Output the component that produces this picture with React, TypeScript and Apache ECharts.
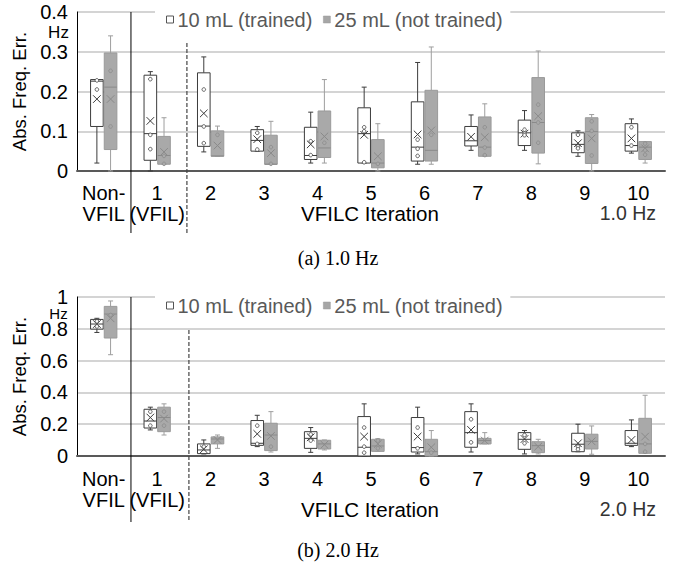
import React, { useEffect, useRef } from "react";
import * as echarts from "echarts";

// ---------- data ----------
const categories = ["Non-\nVFIL", "1\n(VFIL)", "2", "3", "4", "5", "6", "7", "8", "9", "10"];
const seriesNames = ["10 mL (trained)", "25 mL (not trained)"];

// [min, q1, median, q3, max]
const box10_1Hz = [
  [0.02, 0.112, 0.226, 0.23, 0.23],
  [0.0, 0.027, 0.094, 0.241, 0.25],
  [0.048, 0.062, 0.113, 0.247, 0.287],
  [0.05, 0.05, 0.077, 0.104, 0.112],
  [0.02, 0.029, 0.039, 0.11, 0.148],
  [0.02, 0.02, 0.094, 0.159, 0.211],
  [0.017, 0.025, 0.06, 0.174, 0.273],
  [0.052, 0.063, 0.076, 0.112, 0.141],
  [0.052, 0.064, 0.096, 0.128, 0.152],
  [0.037, 0.046, 0.067, 0.096, 0.101],
  [0.045, 0.05, 0.064, 0.119, 0.131],
];
const mean10_1Hz = [0.181, 0.126, 0.145, 0.08, 0.067, 0.091, 0.092, 0.086, 0.094, 0.07, 0.082];
const pts10_1Hz = [
  [0.228, 0.205], [0.231, 0.091, 0.055], [0.205, 0.112, 0.07], [0.096, 0.054], [0.075, 0.04],
  [0.11, 0.1, 0.022], [0.079, 0.056, 0.038], [], [0.104, 0.094, 0.09], [0.091, 0.062, 0.057], [0.11, 0.064],
];

const box25_1Hz = [
  [0.0, 0.054, 0.211, 0.297, 0.34],
  [0.017, 0.017, 0.039, 0.087, 0.134],
  [0.037, 0.037, 0.038, 0.101, 0.113],
  [0.017, 0.017, 0.017, 0.09, 0.125],
  [0.02, 0.034, 0.058, 0.151, 0.23],
  [0.0, 0.008, 0.02, 0.079, 0.119],
  [0.017, 0.025, 0.052, 0.203, 0.312],
  [0.037, 0.037, 0.06, 0.136, 0.169],
  [0.018, 0.045, 0.122, 0.235, 0.302],
  [0.0, 0.019, 0.099, 0.134, 0.142],
  [0.02, 0.029, 0.06, 0.074, 0.074],
];
const mean25_1Hz = [0.181, 0.048, 0.064, 0.045, 0.087, 0.037, 0.102, 0.085, 0.138, 0.082, 0.057];
const pts25_1Hz = [
  [0.252, 0.112], [0.038, 0.018], [0.091], [0.06, 0.018], [0.071], [0.018], [0.091],
  [0.11, 0.059, 0.04], [0.167, 0.122, 0.071], [0.125, 0.101, 0.039], [0.069, 0.052, 0.041],
];

const box10_2Hz = [
  [0.777, 0.798, 0.83, 0.859, 0.866],
  [0.164, 0.176, 0.22, 0.294, 0.307],
  [0.013, 0.015, 0.038, 0.076, 0.101],
  [0.059, 0.067, 0.08, 0.223, 0.256],
  [0.023, 0.048, 0.111, 0.153, 0.179],
  [0.0, 0.0, 0.055, 0.248, 0.328],
  [0.013, 0.025, 0.053, 0.242, 0.307],
  [0.025, 0.055, 0.147, 0.279, 0.328],
  [0.013, 0.042, 0.105, 0.147, 0.16],
  [0.027, 0.027, 0.074, 0.143, 0.2],
  [0.059, 0.067, 0.08, 0.16, 0.227],
];
const mean10_2Hz = [0.83, 0.242, 0.042, 0.139, 0.118, 0.122, 0.122, 0.164, 0.107, 0.08, 0.101];
const pts10_2Hz = [
  [0.847, 0.815], [0.279, 0.191], [0.059], [0.191, 0.076], [0.136, 0.097], [0.179, 0.059, 0.021],
  [0.179, 0.048], [0.231, 0.086], [0.132, 0.08], [0.059, 0.042], [],
];

const box25_2Hz = [
  [0.637, 0.742, 0.893, 0.941, 0.975],
  [0.132, 0.153, 0.242, 0.307, 0.328],
  [0.048, 0.076, 0.107, 0.12, 0.132],
  [0.025, 0.034, 0.132, 0.206, 0.279],
  [0.038, 0.044, 0.076, 0.099, 0.101],
  [0.029, 0.029, 0.063, 0.105, 0.109],
  [0.0, 0.0, 0.027, 0.105, 0.16],
  [0.076, 0.076, 0.097, 0.111, 0.147],
  [0.013, 0.021, 0.065, 0.09, 0.105],
  [0.011, 0.044, 0.092, 0.137, 0.189],
  [0.017, 0.017, 0.076, 0.237, 0.382],
];
const mean25_2Hz = [0.866, 0.235, 0.101, 0.126, 0.071, 0.076, 0.055, 0.097, 0.059, 0.092, 0.122];
const pts25_2Hz = [
  [0.887], [0.279, 0.191], [], [0.059], [], [0.097, 0.048], [0.021], [], [], [], [0.076, 0.027],
];

// ---------- styles ----------
const SANS = "'Liberation Sans', Arial, Helvetica, sans-serif";
const SERIF = "'Liberation Serif', 'Times New Roman', serif";

const whiteStyle = { fill: "#ffffff", stroke: "#3c3c3c", whisker: "#3c3c3c", inner: "#3c3c3c", dotFill: "#ffffff" };
const greyStyle = { fill: "#a9a9a9", stroke: "#9a9a9a", whisker: "#9e9e9e", inner: "#8a8a8a", dotFill: "#a9a9a9" };

function makeRender(side: number, pts: number[][], st: any) {
  return (params: any, api: any) => {
    const i = api.value(0);
    const mn = api.value(1), q1 = api.value(2), md = api.value(3), q3 = api.value(4), mx = api.value(5), mean = api.value(6);
    const band = api.size([1, 0])[0];
    const cx = api.coord([i, 0])[0] + side * band * 0.128;
    const hw = band * 0.118;
    const Y = (v: number) => api.coord([i, v])[1];
    const cap = 2.5;
    const ls = { stroke: st.whisker, lineWidth: 1 };
    const children: any[] = [
      { type: "line", shape: { x1: cx, y1: Y(mx), x2: cx, y2: Y(q3) }, style: ls },
      { type: "line", shape: { x1: cx - cap, y1: Y(mx), x2: cx + cap, y2: Y(mx) }, style: ls },
      { type: "line", shape: { x1: cx, y1: Y(q1), x2: cx, y2: Y(mn) }, style: ls },
      { type: "line", shape: { x1: cx - cap, y1: Y(mn), x2: cx + cap, y2: Y(mn) }, style: ls },
      {
        type: "rect",
        shape: { x: cx - hw, y: Y(q3), width: 2 * hw, height: Math.max(Y(q1) - Y(q3), 0.5) },
        style: { fill: st.fill, stroke: st.stroke, lineWidth: 1 },
      },
      { type: "line", shape: { x1: cx - hw, y1: Y(md), x2: cx + hw, y2: Y(md) }, style: { stroke: st.inner, lineWidth: 1 } },
    ];
    const m = Y(mean);
    const xs = 3.8;
    children.push(
      { type: "line", shape: { x1: cx - xs, y1: m - xs, x2: cx + xs, y2: m + xs }, style: { stroke: st.inner, lineWidth: 1 } },
      { type: "line", shape: { x1: cx - xs, y1: m + xs, x2: cx + xs, y2: m - xs }, style: { stroke: st.inner, lineWidth: 1 } }
    );
    (pts[params.dataIndex] || []).forEach((v) => {
      children.push({ type: "circle", shape: { cx, cy: Y(v), r: 1.8 }, style: { fill: st.dotFill, stroke: st.inner, lineWidth: 0.8 } });
    });
    return { type: "group", children };
  };
}

function buildData(box: number[][], mean: number[]) {
  return categories.map((_, i) => [i, ...box[i], mean[i]]);
}

const GRID_LEFT = 77;
const GRID_W = 588;
const GRID_H = 159;
const TOPS = [12, 297];

export default function App() {
  const ref = useRef<HTMLDivElement>(null);
  useEffect(() => {
    document.body.style.margin = "0";
    const chart = echarts.init(ref.current!, undefined, { renderer: "svg" });

    const mkX = (gi: number) => ({
      type: "category",
      gridIndex: gi,
      data: categories,
      boundaryGap: true,
      axisLine: { show: true, lineStyle: { color: "#595959", width: 2 } },
      axisTick: { show: false },
      splitLine: { show: false },
      axisLabel: { color: "#000", fontSize: 20, lineHeight: 21, margin: gi ? 12 : 11, fontFamily: SANS, interval: 0 },
    });
    const mkY = (gi: number, max: number, interval: number) => ({
      type: "value",
      gridIndex: gi,
      min: 0,
      max,
      interval,
      name: "Abs. Freq. Err.",
      nameLocation: "middle",
      nameGap: 44,
      nameTextStyle: { color: "#000", fontSize: 18.5, fontFamily: SANS },
      axisLine: { show: true, lineStyle: { color: "#000", width: 1 } },
      axisTick: { show: false },
      splitLine: { show: true, lineStyle: { color: "#c6c6c6", width: 1.5 } },
      axisLabel: { color: "#000", fontSize: 20, lineHeight: 16, margin: 9, fontFamily: SANS },
    });

    const series: any[] = [];
    const sets = [
      [box10_1Hz, mean10_1Hz, pts10_1Hz, box25_1Hz, mean25_1Hz, pts25_1Hz],
      [box10_2Hz, mean10_2Hz, pts10_2Hz, box25_2Hz, mean25_2Hz, pts25_2Hz],
    ] as any[];
    sets.forEach((s: any, gi: number) => {
      series.push({
        type: "custom",
        name: seriesNames[0],
        xAxisIndex: gi,
        yAxisIndex: gi,
        data: buildData(s[0], s[1]),
        encode: { x: 0, y: [1, 2, 3, 4, 5] },
        renderItem: makeRender(-1, s[2], whiteStyle),
        itemStyle: { color: "#fff", borderColor: "#555" },
        z: 3,
      });
      series.push({
        type: "custom",
        name: seriesNames[1],
        xAxisIndex: gi,
        yAxisIndex: gi,
        data: buildData(s[3], s[4]),
        encode: { x: 0, y: [1, 2, 3, 4, 5] },
        renderItem: makeRender(1, s[5], greyStyle),
        itemStyle: { color: "#a6a6a6" },
        z: 3,
      });
    });

    const mkLegend = (top: number) => ({
      left: 155,
      top,
      orient: "horizontal",
      backgroundColor: "#ffffff",
      padding: [2, 7, 2, 11],
      itemWidth: 7,
      itemHeight: 7,
      itemGap: 10,
      selectedMode: false,
      textStyle: { color: "#595959", fontSize: 20, fontFamily: SANS, lineHeight: 20, padding: [0, 0, 0, -1] },
      data: [
        { name: seriesNames[0], icon: "rect", itemStyle: { color: "#ffffff", borderColor: "#555555", borderWidth: 1 } },
        { name: seriesNames[1], icon: "rect", itemStyle: { color: "#a6a6a6", borderColor: "#999999", borderWidth: 0.5 } },
      ],
      z: 5,
    });

    const graphic: any[] = [];
    const labelsHz = ["1.0 Hz", "2.0 Hz"];
    const captions = ["(a) 1.0 Hz", "(b) 2.0 Hz"];
    const catW = GRID_W / categories.length;
    TOPS.forEach((t, gi) => {
      const bottom = t + GRID_H;
      const rowY = bottom + (gi ? 53 : 42);
      graphic.push(
        { type: "text", x: 58.5, y: t + (gi ? 16 : 20.5), style: { text: "Hz", fontSize: gi ? 15 : 17, lineHeight: 14, fontFamily: SANS, fill: "#000", textAlign: "center", textVerticalAlign: "middle" }, z: 10 },
        { type: "text", x: 370, y: rowY, style: { text: "VFILC Iteration", fontSize: 20.5, fontFamily: SANS, fill: "#000", textAlign: "center", textVerticalAlign: "middle" } },
        { type: "text", x: 656, y: rowY, style: { text: labelsHz[gi], fontSize: 19.5, fontFamily: SANS, fill: "#333", textAlign: "right", textVerticalAlign: "middle" } },
        { type: "text", x: 338, y: bottom + 87 + gi * 7, style: { text: captions[gi], fontSize: 20, fontFamily: SERIF, fill: "#000", textAlign: "center", textVerticalAlign: "middle" } },
        { type: "line", shape: { x1: GRID_LEFT + catW + 0.5, y1: t, x2: GRID_LEFT + catW + 0.5, y2: bottom + 62 + gi * 4 }, style: { stroke: "#000", lineWidth: 1 }, z: 10 },
        { type: "line", shape: { x1: GRID_LEFT + 2 * catW + 3 + gi * 2, y1: t + 31 + gi * 2, x2: GRID_LEFT + 2 * catW + 3 + gi * 2, y2: bottom + 62 + gi * 4 }, style: { stroke: "#444", lineWidth: 1.2, lineDash: [4, 2] }, z: 10 }
      );
    });

    chart.setOption({
      animation: false,
      backgroundColor: "#ffffff",
      textStyle: { fontFamily: SANS },
      grid: TOPS.map((t) => ({ left: GRID_LEFT, top: t, width: GRID_W, height: GRID_H, containLabel: false })),
      xAxis: [mkX(0), mkX(1)],
      yAxis: [mkY(0, 0.4, 0.1), mkY(1, 1, 0.2)],
      legend: [mkLegend(7.5), mkLegend(293.5)],
      series,
      graphic,
    });
    return () => chart.dispose();
  }, []);
  return <div ref={ref} style={{ width: 676, height: 566 }} />;
}
